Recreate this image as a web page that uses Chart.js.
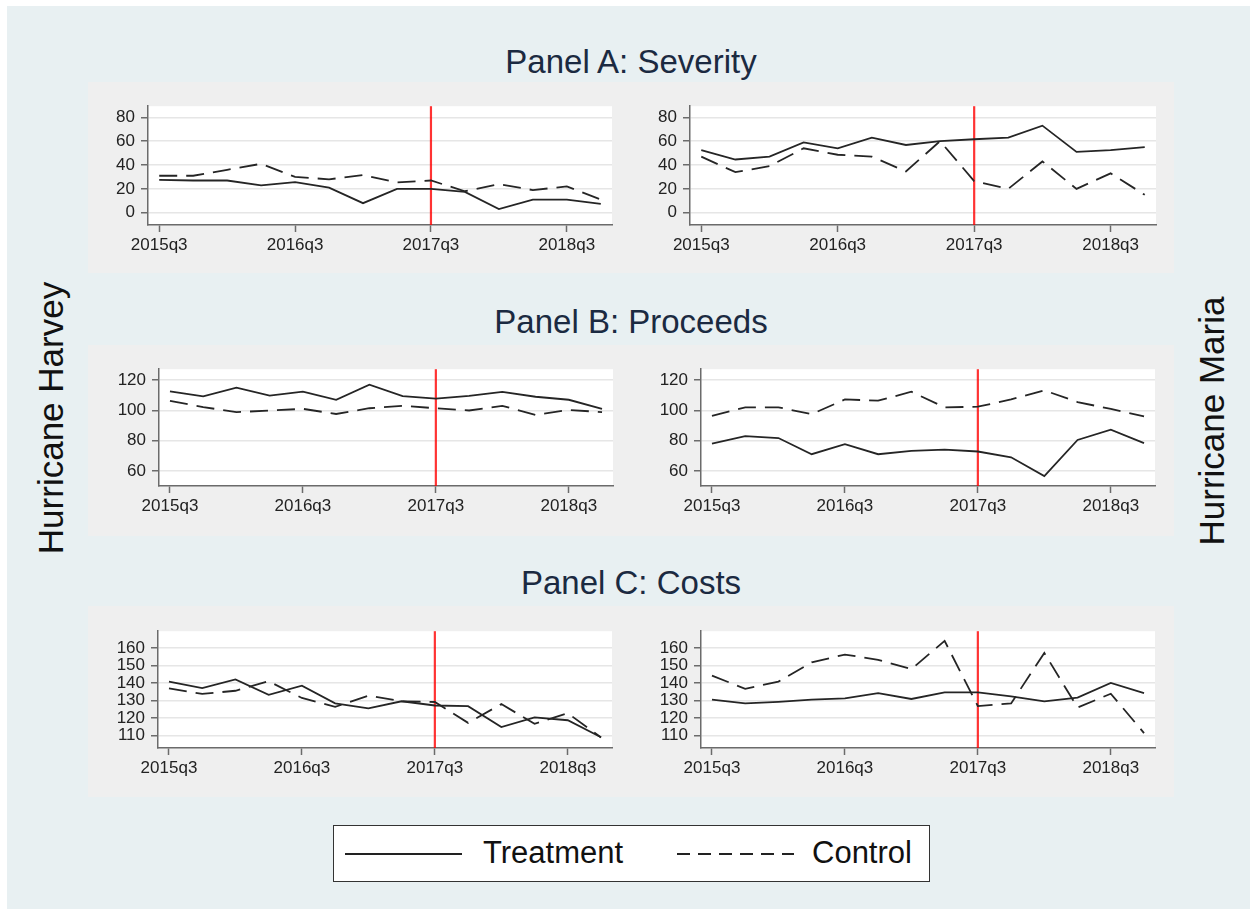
<!DOCTYPE html>
<html>
<head>
<meta charset="utf-8">
<script src="https://cdn.jsdelivr.net/npm/chart.js@4.4.1/dist/chart.umd.min.js"></script>
<style>
  html, body { margin: 0; padding: 0; background: #fff; }
  body { width: 1250px; height: 909px; position: relative; overflow: hidden; font-family: "Liberation Sans", Arial, sans-serif; }
  #fundo { position: absolute; left: 7px; top: 6px; right: 0; bottom: 0; background: #e8f0f2; }
  .faixa { position: absolute; left: 88px; width: 1086px; height: 191px; background: #efefef; }
  .titulo { position: absolute; left: 88px; width: 1086px; text-align: center; font-size: 33px; line-height: 40px; color: #1b2a41; }
  .lateral { position: absolute; font-size: 35px; line-height: 35px; color: #111; white-space: nowrap; transform: translate(-50%, -50%) rotate(-90deg); }
  canvas.painel { position: absolute; }
  #legenda { position: absolute; left: 333px; top: 825px; width: 595px; height: 55px; background: #fff; border: 1.5px solid #333; }
  #legenda span { position: absolute; top: 9px; font-size: 31px; line-height: 36px; color: #111; }
</style>
</head>
<body>
<div id="fundo"></div>
<div class="faixa" style="top:82px"></div>
<div class="faixa" style="top:345px"></div>
<div class="faixa" style="top:606px"></div>

<div class="titulo" style="top:42px">Panel A: Severity</div>
<div class="titulo" style="top:302px">Panel B: Proceeds</div>
<div class="titulo" style="top:563px">Panel C: Costs</div>

<div class="lateral" style="left:50px; top:418px">Hurricane Harvey</div>
<div class="lateral" style="left:1211px; top:421px">Hurricane Maria</div>

<div id="legenda">
  <svg width="595" height="55" style="position:absolute;left:0;top:0">
    <line x1="11" y1="28" x2="128" y2="28" stroke="#222" stroke-width="2"/>
    <line x1="343" y1="28" x2="460" y2="28" stroke="#222" stroke-width="2" stroke-dasharray="13 8"/>
  </svg>
  <span style="left:149px">Treatment</span>
  <span style="left:478px">Control</span>
</div>

<script>
// trimestres do eixo x
const QUARTERS = ['2015q3', '2015q4', '2016q1', '2016q2', '2016q3', '2016q4', '2017q1',
                  '2017q2', '2017q3', '2017q4', '2018q1', '2018q2', '2018q3', '2018q4'];
const X_TICKS = [0, 4, 8, 12];
const EVENT_INDEX = 8; // 2017q3

// Panel A: Severity
const sevHarveyT = [27.6, 27, 27, 23, 25.7, 21, 8, 20, 20, 17.5, 3, 11, 11, 7.5];
const sevHarveyC = [31, 31, 36, 41, 30, 28, 31.6, 25.4, 27, 18, 24, 19, 22, 11];
const sevMariaT = [52.4, 44.6, 47, 59, 54, 63, 56.8, 60, 61.6, 63, 73, 51, 52.4, 55];
const sevMariaC = [47, 34, 39, 54, 48.6, 47, 34.6, 60, 26.5, 20, 43, 20, 33, 15];
const sevTicks = [0, 20, 40, 60, 80];

// Panel B: Proceeds
const procHarveyT = [112.6, 109.2, 115, 109.8, 112.4, 106.9, 117, 109.4, 107.7, 109.6, 112.2, 109, 107, 100.9];
const procHarveyC = [106.2, 102.2, 98.8, 99.9, 101, 97.6, 101.4, 103, 101.4, 99.9, 103, 97, 100.3, 98.8];
const procMariaT = [78, 83, 81.7, 71, 77.6, 71, 73.2, 74, 72.8, 69, 56.6, 80.4, 87.2, 78.3];
const procMariaC = [96.4, 102, 102, 97.5, 107.2, 106.4, 112.3, 102, 102.4, 107.2, 113.2, 105.5, 100.9, 96];
const procTicks = [60, 80, 100, 120];

// Panel C: Costs
const costHarveyT = [140.8, 137.1, 142, 133.3, 138.5, 128.4, 125.6, 129.6, 127.2, 126.8, 114.9, 120.4, 118.8, 109.1];
const costHarveyC = [137, 133.8, 135.6, 141, 131.5, 126.4, 132.8, 129.6, 129.2, 117.3, 128, 116.8, 122.8, 109];
const costMariaT = [130.5, 128.4, 129.3, 130.5, 131.3, 134.2, 130.9, 134.7, 134.7, 132.4, 129.5, 131.7, 140, 134.2];
const costMariaC = [144.2, 136.7, 140.8, 151.8, 156.2, 153.2, 147.9, 164, 126.9, 128.4, 157.1, 126, 133.9, 111.5];
const costTicks = [110, 120, 130, 140, 150, 160];

const FONT = '"Liberation Sans", Arial, sans-serif';
const AXIS = '#6b6b6b';
const LINE = '#252525';
const PAD_L = 70, PAD_T = 10, PAD_R = 10, PAD_B = 40;

// posição de cada área de plotagem (px da página)
const panels = [
    { box: [148, 100, 612, 225], y: [-10.3, 89.3], ticks: sevTicks, t: sevHarveyT, c: sevHarveyC },
    { box: [690, 100, 1156, 225], y: [-10.3, 89.3], ticks: sevTicks, t: sevMariaT, c: sevMariaC },
    { box: [159, 363, 613, 486], y: [50, 127.2], ticks: procTicks, t: procHarveyT, c: procHarveyC },
    { box: [701, 363, 1155, 486], y: [50, 127.2], ticks: procTicks, t: procMariaT, c: procMariaC },
    { box: [158, 625, 612, 748], y: [103, 169.5], ticks: costTicks, t: costHarveyT, c: costHarveyC },
    { box: [701, 625, 1155, 748], y: [103, 169.5], ticks: costTicks, t: costMariaT, c: costMariaC }
];

const plotBg = {
    id: 'plotBg',
    beforeDraw(chart) {
        const { ctx, chartArea: a } = chart;
        ctx.save();
        ctx.fillStyle = '#ffffff';
        ctx.fillRect(a.left, a.top, a.right - a.left, a.bottom - a.top);
        ctx.restore();
    }
};

const eventLine = {
    id: 'eventLine',
    beforeDatasetsDraw(chart) {
        const { ctx, chartArea: a } = chart;
        const x = chart.scales.x.getPixelForValue(EVENT_INDEX);
        ctx.save();
        ctx.strokeStyle = 'rgba(255,0,0,0.8)';
        ctx.lineWidth = 2.2;
        ctx.beginPath();
        ctx.moveTo(x, a.top);
        ctx.lineTo(x, a.bottom);
        ctx.stroke();
        ctx.restore();
    }
};

function toPoints(values) {
    return values.map((v, i) => ({ x: i, y: v }));
}

function makePanel(p) {
    const [l, t, r, b] = p.box;
    const canvas = document.createElement('canvas');
    canvas.className = 'painel';
    canvas.width = r - l + PAD_L + PAD_R;
    canvas.height = b - t + PAD_T + PAD_B;
    canvas.style.left = (l - PAD_L) + 'px';
    canvas.style.top = (t - PAD_T) + 'px';
    document.body.appendChild(canvas);

    new Chart(canvas.getContext('2d'), {
        type: 'line',
        data: {
            datasets: [
                { label: 'Treatment', data: toPoints(p.t), borderColor: LINE, borderWidth: 1.8 },
                { label: 'Control', data: toPoints(p.c), borderColor: LINE, borderWidth: 1.8, borderDash: [18, 9] }
            ]
        },
        options: {
            responsive: false,
            animation: false,
            devicePixelRatio: 1,
            layout: { padding: { left: 0, top: PAD_T, right: PAD_R, bottom: 0 } },
            elements: { point: { radius: 0 }, line: { tension: 0 } },
            plugins: { legend: { display: false }, tooltip: { enabled: false } },
            scales: {
                x: {
                    type: 'linear',
                    min: -0.33,
                    max: 13.33,
                    afterBuildTicks: s => { s.ticks = X_TICKS.map(v => ({ value: v })); },
                    afterFit: s => { s.height = PAD_B; },
                    grid: { drawOnChartArea: false, tickColor: AXIS, tickLength: 7, tickWidth: 1.5 },
                    border: { color: AXIS, width: 1.5 },
                    ticks: {
                        callback: v => QUARTERS[v],
                        autoSkip: false, maxRotation: 0, padding: 3,
                        color: '#222', font: { family: FONT, size: 17 }
                    }
                },
                y: {
                    min: p.y[0],
                    max: p.y[1],
                    afterBuildTicks: s => { s.ticks = p.ticks.map(v => ({ value: v })); },
                    afterFit: s => { s.width = PAD_L; },
                    grid: { color: '#e6e6e6', lineWidth: 1.5, tickColor: AXIS, tickLength: 7, tickWidth: 1.5 },
                    border: { color: AXIS, width: 1.5 },
                    ticks: { autoSkip: false, padding: 6, color: '#222', font: { family: FONT, size: 17 } }
                }
            }
        },
        plugins: [plotBg, eventLine]
    });
}

panels.forEach(makePanel);
</script>
</body>
</html>
